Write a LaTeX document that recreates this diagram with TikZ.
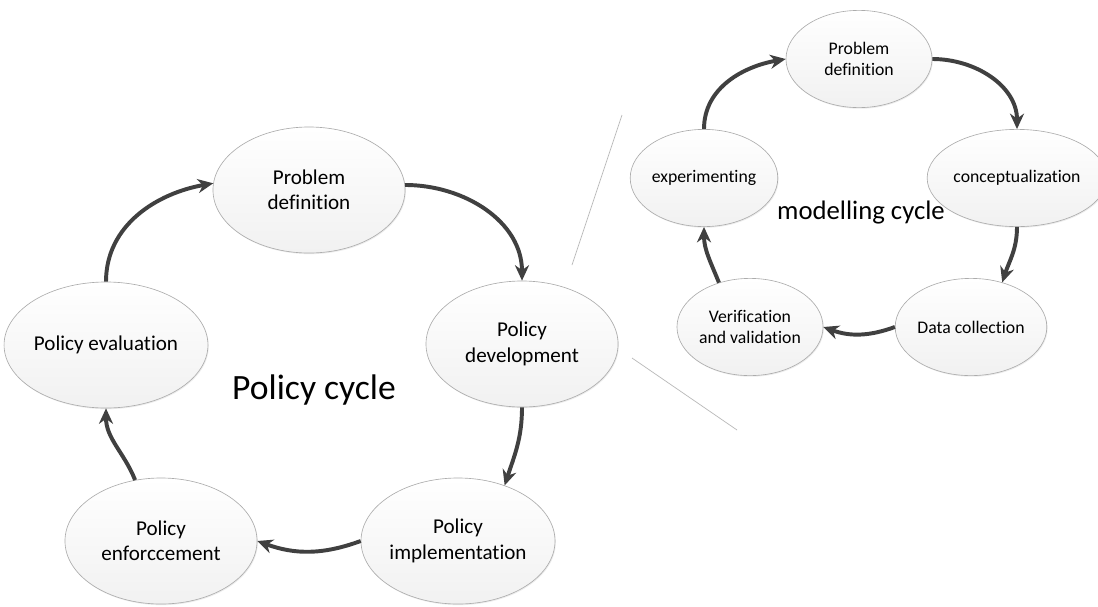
\documentclass[tikz,border=0pt]{standalone}
\usepackage{fontspec}
\setmainfont{Carlito}[Ligatures={CommonOff,ContextualOff}]
\usetikzlibrary{arrows.meta,shadows,shapes.geometric}

\tikzset{
  phase/.style={ellipse,draw=gray!65,line width=0.45pt,top color=white,bottom color=gray!11,
    drop shadow={opacity=0.15,shadow xshift=0.6pt,shadow yshift=-0.8pt},align=center,inner sep=0pt},
  bigphase/.style={phase,minimum width=4.8cm,minimum height=3.15cm,font=\fontsize{15}{18}\selectfont},
  smallphase/.style={phase,minimum width=3.65cm,minimum height=2.43cm,font=\fontsize{12.6}{15}\selectfont},
  cyclearrow/.style={draw=black!75,line width=2.8pt,-{Stealth[length=11pt,width=10pt]}},
  guide/.style={draw=gray!55,line width=0.5pt}
}

\begin{document}
\begin{tikzpicture}[x=0.025cm,y=-0.025cm]
\useasboundingbox (0,0) rectangle (1098,606);
\fill[white] (0,0) rectangle (1098,606);

% policy cycle
\node (pd)   at (309,190) [bigphase] {Problem\\definition};
\node (dev)  at (522,344) [bigphase] {Policy\\development};
\node (impl) at (458,541) [bigphase] {Policy\\implementation};
\node (enf)  at (161,541) [bigphase] {Policy\\enforccement};
\node (eval) at (106,345) [bigphase] {Policy evaluation};
\node (policycycle) at (314,390) [font=\fontsize{25.3}{30}\selectfont] {Policy cycle};

\draw[cyclearrow] (eval.north) to[out=90,in=190] (pd.176);
\draw[cyclearrow] (pd.3) to[out=0,in=90] (dev.north);
\draw[cyclearrow] (dev.south) to[out=-90,in=72] (impl.50);
\draw[cyclearrow] (impl.west) to[out=200,in=-20] (enf.east);
\draw[cyclearrow] (enf.113) to[out=112,in=-90] (eval.south);

% modelling cycle
\node (pdm)  at (859,59)  [smallphase] {Problem\\definition};
\node (con)  at (1017,178) [smallphase,minimum width=4.0cm] {conceptualization};
\node (data) at (971,327) [smallphase] {Data collection};
\node (ver)  at (750,327) [smallphase] {Verification\\and validation};
\node (exp)  at (704,178) [smallphase] {experimenting};
\node (modcycle) at (861,213) [font=\fontsize{19}{23}\selectfont] {modelling cycle};

\draw[cyclearrow] (exp.north) to[out=90,in=190] (pdm.west);
\draw[cyclearrow] (pdm.east) to[out=0,in=90] (con.north);
\draw[cyclearrow] (con.south) to[out=-90,in=72] (data.55);
\draw[cyclearrow] (data.west) to[out=200,in=-20] (ver.east);
\draw[cyclearrow] (ver.125) to[out=112,in=-90] (exp.south);

% zoom lines
\coordinate (zoomA1) at (572,265);
\coordinate (zoomA2) at (622,115);
\coordinate (zoomB1) at (632,358);
\coordinate (zoomB2) at (737,430);
\draw[guide] (zoomA1) -- (zoomA2);
\draw[guide] (zoomB1) -- (zoomB2);
\end{tikzpicture}
\end{document}
